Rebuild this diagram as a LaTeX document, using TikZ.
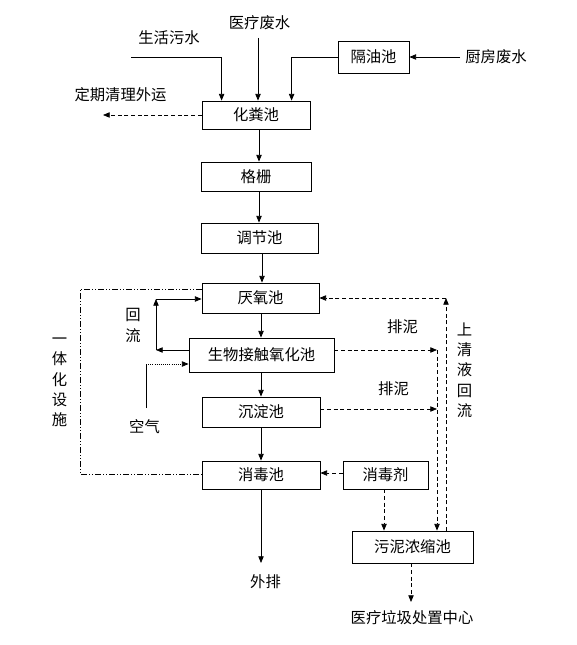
\documentclass[tikz,border=0pt]{standalone}
\usepackage{fontspec}
\setmainfont{Noto Sans CJK SC}
\usetikzlibrary{arrows.meta,calc}
\begin{document}
\begin{tikzpicture}[x=0.75pt,y=-0.75pt,
  every node/.style={font=\fontsize{11.5}{14}\selectfont, inner sep=1pt},
  box/.style={draw, line width=0.6pt, inner sep=0pt},
  arr/.style={line width=0.6pt, -{Triangle[length=5pt,width=4pt]}},
  darr/.style={line width=0.6pt, dash pattern=on 3pt off 2pt, -{Triangle[length=5pt,width=4pt]}},
  ddot/.style={line width=0.6pt, dash pattern=on 4.5pt off 1.5pt on 0.75pt off 1.5pt on 0.75pt off 1.5pt},
  vtext/.style={align=center, font=\fontsize{11.5}{15.2}\selectfont}
]
\useasboundingbox (0,0) rectangle (576,645);
\fill[white] (0,0) rectangle (576,645);

% boxes
\node[box, minimum width=81pt, minimum height=21pt] (hfc) at (256,115) {化粪池};
\node[box, minimum width=53.25pt, minimum height=24pt] (gyc) at (373.5,57) {隔油池};
\node[box, minimum width=82.5pt, minimum height=21.75pt] (gs) at (256,176.5) {格栅};
\node[box, minimum width=87.75pt, minimum height=22.5pt] (tjc) at (259.5,238) {调节池};
\node[box, minimum width=87.75pt, minimum height=22.5pt] (yy) at (260.5,298) {厌氧池};
\node[box, minimum width=108.75pt, minimum height=25.5pt] (sw) at (261.5,355) {生物接触氧化池};
\node[box, minimum width=88.5pt, minimum height=22.5pt] (cd) at (261,412) {沉淀池};
\node[box, minimum width=88.5pt, minimum height=21pt] (xd) at (261,475) {消毒池};
\node[box, minimum width=63.75pt, minimum height=21pt] (xdj) at (385.5,475) {消毒剂};
\node[box, minimum width=90.75pt, minimum height=24pt] (wn) at (412.5,547) {污泥浓缩池};

% text labels
\node (shws) at (169,38) {生活污水};
\node (ylfs) at (259.5,23) {医疗废水};
\node (cffs) at (496,57) {厨房废水};
\node (dqql) at (120.5,94.5) {定期清理外运};
\node (wp) at (265.5,582) {外排};
\node (yllj) at (412,618) {医疗垃圾处置中心};
\node (kq) at (144.5,427) {空气};
\node (pn1) at (402.5,327) {排泥};
\node (pn2) at (393.5,389) {排泥};
\node[vtext, font=\fontsize{11.5}{15.75}\selectfont] (hl) at (133,325.5) {回\\流};
\node[vtext] (sqy) at (464.5,370) {上\\清\\液\\回\\流};
\node[vtext] (ytj) at (59.5,382.5) {一\\体\\化\\设\\施};

% free-end coordinates
\coordinate (shsA) at (131,57);
\coordinate (ylfsA) at (258,38);
\coordinate (cffsA) at (460,57);
\coordinate (dqqlA) at (103,115);
\coordinate (r1) at (156,350);
\coordinate (r2) at (156,299);
\coordinate (k1) at (146,408);
\coordinate (k2) at (146,364);
\coordinate (p1) at (437,350);
\coordinate (p2) at (437,409);
\coordinate (q1) at (446,531);
\coordinate (d1) at (80,289);
\coordinate (d2) at (80,474);
\coordinate (e1) at (261,563);
\coordinate (e2) at (411,602);

% inflows
\draw[arr] (shsA) -| ($(hfc.north west)+(20,0)$);
\draw[arr] (ylfsA) -- (ylfsA |- hfc.north);
\draw[arr] (gyc.west) -| ($(hfc.north west)+(90,0)$);
\draw[arr] (cffsA) -- (gyc.east);
\draw[darr] (hfc.west) -- (dqqlA);

% main chain
\draw[arr] ($(hfc.south)+(3,0)$) coordinate (m1) -- (m1 |- gs.north);
\draw[arr] ($(gs.south)+(3,0)$) coordinate (m2) -- (m2 |- tjc.north);
\draw[arr] ($(tjc.south)+(2.5,0)$) coordinate (m3) -- (m3 |- yy.north);
\draw[arr] ($(yy.south)+(0.5,0)$) coordinate (m4) -- (m4 |- sw.north);
\draw[arr] ($(sw.south)+(-0.5,0)$) coordinate (m5) -- (m5 |- cd.north);
\draw[arr] (cd.south) -- (xd.north);
\draw[arr] (xd.south) -- (e1);

% recirculation
\draw[arr] ($(sw.west)+(0,-5)$) -- (r1);
\draw[arr] (r1) -- (r2);
\draw[arr] (r2) -- (r2 -| yy.west);

% air
\draw[line width=0.6pt] (k1) -- (k2);
\draw[arr, densely dotted] (k2) -- (k2 -| sw.west);

% sludge
\draw[darr] ($(sw.east)+(0,-5)$) -- (p1);
\draw[darr] ($(cd.east)+(0,-3)$) -- (p2);
\draw[darr] (p1) -- (p1 |- wn.north);
\draw[darr] (q1) -- (q1 |- yy.east);
\draw[darr] (q1 |- yy.east) -- (yy.east);

% disinfectant
\draw[darr] ($(xdj.west)+(0,-2)$) -- ($(xd.east)+(0,-2)$);
\draw[darr] ($(xdj.south)+(-1.5,0)$) coordinate (m6) -- (m6 |- wn.north);
\draw[darr] ($(wn.south)+(-1.5,0)$) -- (e2);

% integrated facility boundary
\draw[ddot] ($(yy.west)+(0,-9)$) -- (d1) -- (d2) -- (d2 -| xd.west);
\end{tikzpicture}
\end{document}
